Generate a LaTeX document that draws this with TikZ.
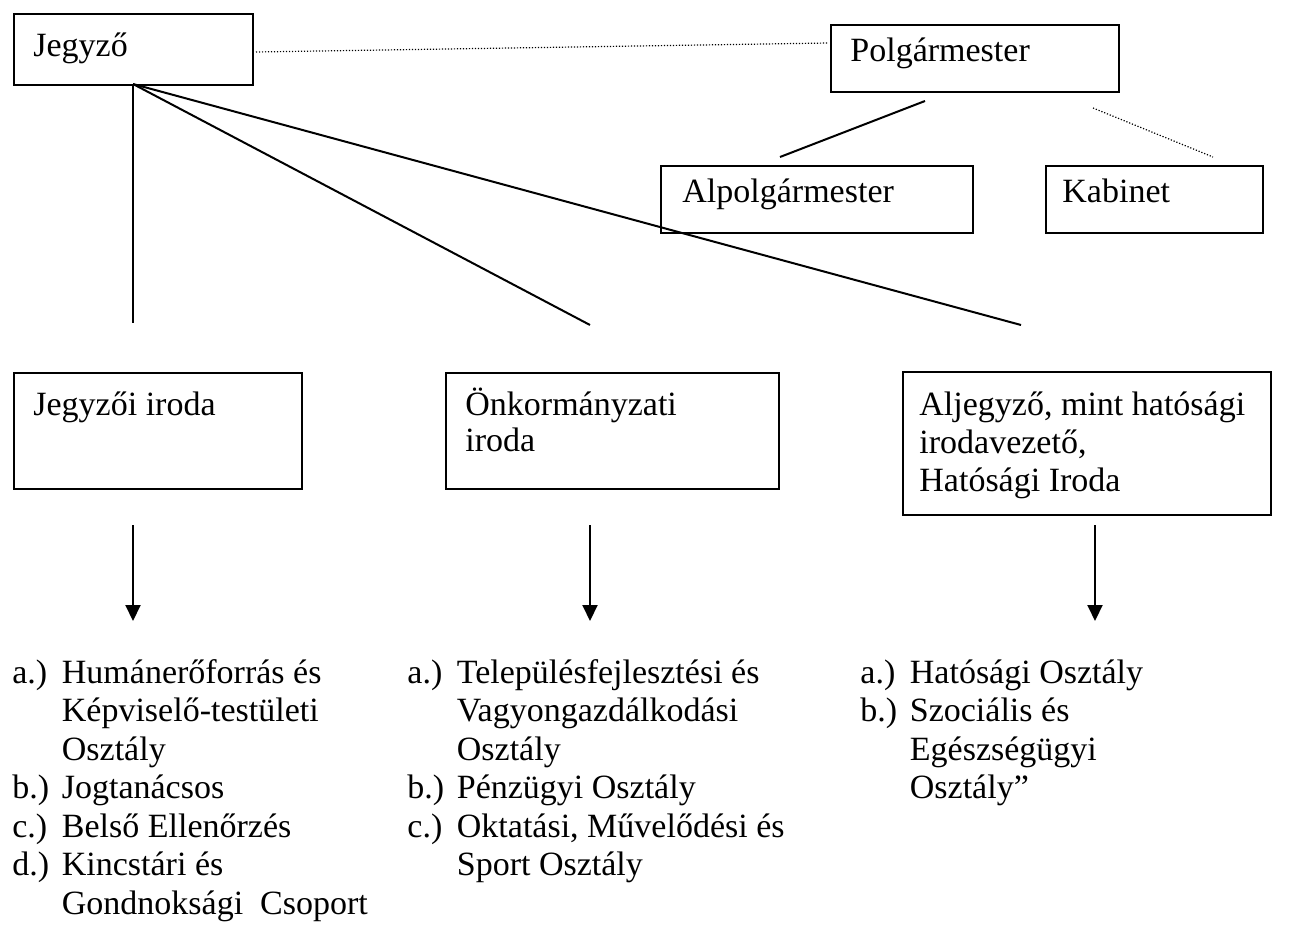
\documentclass[tikz,border=0pt]{standalone}
\usepackage{fontspec}
\setmainfont{Liberation Serif}
\usetikzlibrary{arrows.meta}
\newcommand{\lbl}[1]{\makebox[24.75pt][l]{#1}}
\newcommand{\ind}{\hspace*{24.75pt}}
\begin{document}
\begin{tikzpicture}[x=0.5pt,y=-0.5pt,
  boxnode/.style={draw,line width=1pt,inner sep=0pt,anchor=north west},
  txt/.style={anchor=base west,inner sep=0pt,font=\fontsize{17}{16.5}\selectfont},
  solidline/.style={line width=1pt},
  dotline/.style={line width=0.6pt,dash pattern=on 0.6pt off 0.9pt},
  arr/.style={line width=1pt,-{Triangle[width=7.5pt,length=8pt]}}]
\useasboundingbox (0,0) rectangle (1300,926);
% boxes
\node[boxnode,minimum width=119.5pt,minimum height=35.5pt] (jb) at (13,13) {};
\node[boxnode,minimum width=144pt,minimum height=33.5pt] (pb) at (830,24) {};
\node[boxnode,minimum width=156pt,minimum height=33.5pt] (ab) at (660,165) {};
\node[boxnode,minimum width=108.5pt,minimum height=33.5pt] (kb) at (1045,165) {};
\node[boxnode,minimum width=144pt,minimum height=58pt] (jib) at (13,372) {};
\node[boxnode,minimum width=166.5pt,minimum height=58pt] (ob) at (445,372) {};
\node[boxnode,minimum width=184pt,minimum height=71.5pt] (hb) at (902,371) {};
% box texts
\node[txt] (jt) at (33,56) {Jegyző};
\node[txt] (pt) at (850,61) {Polgármester};
\node[txt] (at) at (682,202) {Alpolgármester};
\node[txt] (kt) at (1062,202) {Kabinet};
\node[txt] (jit) at (33,415) {Jegyzői iroda};
\node[txt] (ot) at (465,415) {\vtop{\baselineskip=18pt\hbox{Önkormányzati}\hbox{iroda}}};
\node[txt] (ht) at (919,415) {\vtop{\baselineskip=19pt\hbox{Aljegyző, mint hatósági}\hbox{irodavezető,}\hbox{Hatósági Iroda}}};
% connector points
\coordinate (j0) at (133,84);
\coordinate (e1) at (133,323);
\coordinate (e2) at (590,325);
\coordinate (e3) at (1021,325);
\coordinate (d1) at (256,52);
\coordinate (d2) at (828,43);
\coordinate (p1) at (925,101);
\coordinate (a1) at (780,157);
\coordinate (p2) at (1093,108);
\coordinate (k1) at (1213,157);
\draw[solidline] (j0) -- (e1);
\draw[solidline] (j0) -- (e2);
\draw[solidline] (j0) -- (e3);
\draw[dotline] (d1) -- (d2);
\draw[solidline] (p1) -- (a1);
\draw[dotline] (p2) -- (k1);
% arrows
\coordinate (s1) at (133,525); \coordinate (t1) at (133,621);
\coordinate (s2) at (590,525); \coordinate (t2) at (590,621);
\coordinate (s3) at (1095,525); \coordinate (t3) at (1095,621);
\draw[arr] (s1) -- (t1);
\draw[arr] (s2) -- (t2);
\draw[arr] (s3) -- (t3);
% lists
\node[txt] (l1) at (12,683) {\vtop{\baselineskip=19.25pt
  \hbox{\lbl{a.)}Humánerőforrás és}
  \hbox{\ind Képviselő-testületi}
  \hbox{\ind Osztály}
  \hbox{\lbl{b.)}Jogtanácsos}
  \hbox{\lbl{c.)}Belső Ellenőrzés}
  \hbox{\lbl{d.)}Kincstári és}
  \hbox{\ind Gondnoksági\ \ Csoport}}};
\node[txt] (l2) at (407,683) {\vtop{\baselineskip=19.25pt
  \hbox{\lbl{a.)}Településfejlesztési és}
  \hbox{\ind Vagyongazdálkodási}
  \hbox{\ind Osztály}
  \hbox{\lbl{b.)}Pénzügyi Osztály}
  \hbox{\lbl{c.)}Oktatási, Művelődési és}
  \hbox{\ind Sport Osztály}}};
\node[txt] (l3) at (860,683) {\vtop{\baselineskip=19.25pt
  \hbox{\lbl{a.)}Hatósági Osztály}
  \hbox{\lbl{b.)}Szociális és}
  \hbox{\ind Egészségügyi}
  \hbox{\ind Osztály”}}};
\end{tikzpicture}
\end{document}
